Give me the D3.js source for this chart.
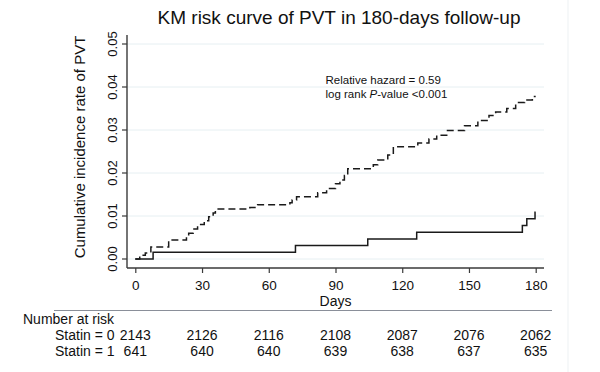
<!DOCTYPE html>
<html>
<head>
<meta charset="utf-8">
<script src="https://cdn.jsdelivr.net/npm/d3@7"></script>
<style>
  body { margin: 0; background: #fff; }
  svg { display: block; font-family: "Liberation Sans", Arial, sans-serif; }
</style>
</head>
<body>
<script>
// KM cumulative incidence of PVT, statin vs no statin

const dayTicks = [0, 30, 60, 90, 120, 150, 180];
const rateTicks = [0, 0.01, 0.02, 0.03, 0.04, 0.05];

// Statin = 0 (dashed), step times and cumulative incidence
const statin0Days = [0, 2, 4.5, 7, 15, 23, 24, 26, 28, 31, 33, 35, 36, 51.5, 55, 69.5, 70.5, 72.5,
    82, 86, 90, 92, 94, 95.5, 107, 109, 113.5, 116, 127, 132, 135.5, 140, 148, 154, 159, 162,
    167, 171, 175, 178.5, 180];
const statin0Cum = [0, 0.0009, 0.0014, 0.0028, 0.0044, 0.0051, 0.006, 0.007, 0.008, 0.0089, 0.0098,
    0.0107, 0.0116, 0.012, 0.0126, 0.0131, 0.0137, 0.0145, 0.0154, 0.0164, 0.0175, 0.0184, 0.0194,
    0.021, 0.0219, 0.023, 0.0242, 0.0261, 0.027, 0.0279, 0.0288, 0.0299, 0.031, 0.0322, 0.0334,
    0.0342, 0.035, 0.0364, 0.037, 0.0378, 0.0378];

// Statin = 1 (solid)
const statin1Days = [0, 8, 72, 104.5, 126.5, 174, 176, 179.7, 180];
const statin1Cum = [0, 0.00156, 0.00312, 0.00468, 0.00624, 0.0078, 0.00936, 0.0109, 0.0109];

// Number at risk table
const riskLabels = ["Statin = 0", "Statin = 1"];
const risk0 = [2143, 2126, 2116, 2108, 2087, 2076, 2062];
const risk1 = [641, 640, 640, 639, 638, 637, 635];

const svgWidth = 600;
const svgHeight = 372;

// plot region edges
const plotLeft = 127, plotRight = 544, plotTop = 35, plotBottom = 268;

let svg = d3.select("body")
    .append("svg")
    .attr("width", svgWidth)
    .attr("height", svgHeight);

let x = d3.scaleLinear().domain([0, 180]).range([135.3, 535.7]);
let y = d3.scaleLinear().domain([0, 0.05]).range([259, 44]);

// faint figure edge on the right
svg.append("line")
    .attr("x1", 568).attr("x2", 568)
    .attr("y1", 0).attr("y2", svgHeight)
    .attr("stroke", "#edf1f3").attr("stroke-width", 1);

// title
svg.append("text")
    .attr("x", 339).attr("y", 23.5)
    .attr("text-anchor", "middle")
    .attr("font-size", "19px")
    .attr("fill", "#111")
    .text("KM risk curve of PVT in 180-days follow-up");

// gridlines
svg.append("g").selectAll("line")
    .data(rateTicks)
    .enter().append("line")
    .attr("x1", plotLeft).attr("x2", plotRight)
    .attr("y1", d => y(d)).attr("y2", d => y(d))
    .attr("stroke", "#e6eff2").attr("stroke-width", 1);

// axes lines
svg.append("line")
    .attr("x1", plotLeft).attr("x2", plotLeft)
    .attr("y1", plotTop).attr("y2", plotBottom)
    .attr("stroke", "#3a3a3a").attr("stroke-width", 1.4);
svg.append("line")
    .attr("x1", plotLeft).attr("x2", plotRight)
    .attr("y1", plotBottom).attr("y2", plotBottom)
    .attr("stroke", "#3a3a3a").attr("stroke-width", 1.4);

// x axis ticks + labels
let xAxis = svg.append("g")
    .attr("transform", `translate(0, ${plotBottom})`)
    .call(d3.axisBottom(x).tickValues(dayTicks).tickSize(5).tickPadding(7).tickFormat(d3.format("d")));
xAxis.select(".domain").remove();
xAxis.selectAll("line").attr("stroke", "#3a3a3a").attr("stroke-width", 1.2);
xAxis.selectAll("text")
    .attr("font-size", "13.5px")
    .attr("font-family", "Liberation Sans, Arial, sans-serif")
    .attr("fill", "#111");

svg.append("text")
    .attr("x", 335.5).attr("y", 305.5)
    .attr("text-anchor", "middle")
    .attr("font-size", "14px")
    .attr("fill", "#111")
    .text("Days");

// y axis ticks + rotated labels
let yAxis = svg.append("g");
yAxis.selectAll("line")
    .data(rateTicks)
    .enter().append("line")
    .attr("x1", plotLeft - 5).attr("x2", plotLeft)
    .attr("y1", d => y(d)).attr("y2", d => y(d))
    .attr("stroke", "#3a3a3a").attr("stroke-width", 1.2);
yAxis.selectAll("text")
    .data(rateTicks)
    .enter().append("text")
    .attr("transform", d => `translate(117, ${y(d)}) rotate(-90)`)
    .attr("text-anchor", "middle")
    .attr("font-size", "13px")
    .attr("fill", "#111")
    .text(d3.format(".2f"));

svg.append("text")
    .attr("transform", "translate(85, 147) rotate(-90)")
    .attr("text-anchor", "middle")
    .attr("font-size", "15px")
    .attr("fill", "#111")
    .text("Cumulative incidence rate of PVT");

// curves
let line = d3.line()
    .x(d => x(d[0]))
    .y(d => y(d[1]))
    .curve(d3.curveStepAfter);

svg.append("path")
    .datum(d3.zip(statin0Days, statin0Cum))
    .attr("d", line)
    .attr("fill", "none")
    .attr("stroke", "#1a1a1a")
    .attr("stroke-width", 1.5)
    .attr("stroke-dasharray", "7,4");

svg.append("path")
    .datum(d3.zip(statin1Days, statin1Cum))
    .attr("d", line)
    .attr("fill", "none")
    .attr("stroke", "#1a1a1a")
    .attr("stroke-width", 1.5);

// annotation
svg.append("text")
    .attr("x", 325.5).attr("y", 84)
    .attr("font-size", "11.5px")
    .attr("fill", "#111")
    .text("Relative hazard = 0.59");
let pText = svg.append("text")
    .attr("x", 325.5).attr("y", 98)
    .attr("font-size", "11.5px")
    .attr("fill", "#111");
pText.append("tspan").text("log rank ");
pText.append("tspan").attr("font-style", "italic").text("P");
pText.append("tspan").text("-value <0.001");

// number at risk table
svg.append("line")
    .attr("x1", 54).attr("x2", 552)
    .attr("y1", 310.5).attr("y2", 310.5)
    .attr("stroke", "#8a8f99").attr("stroke-width", 1.2);

svg.append("text")
    .attr("x", 23).attr("y", 324)
    .attr("font-size", "14px")
    .attr("fill", "#111")
    .text("Number at risk");

[risk0, risk1].forEach((row, i) => {
    let rowY = 340 + i * 16;
    svg.append("text")
        .attr("x", 55).attr("y", rowY)
        .attr("font-size", "14px")
        .attr("fill", "#111")
        .text(riskLabels[i]);
    svg.append("g").selectAll("text")
        .data(row)
        .enter().append("text")
        .attr("x", (d, j) => x(dayTicks[j]))
        .attr("y", rowY)
        .attr("text-anchor", "middle")
        .attr("font-size", "14px")
        .attr("fill", "#111")
        .text(d => d);
});
</script>
</body>
</html>
